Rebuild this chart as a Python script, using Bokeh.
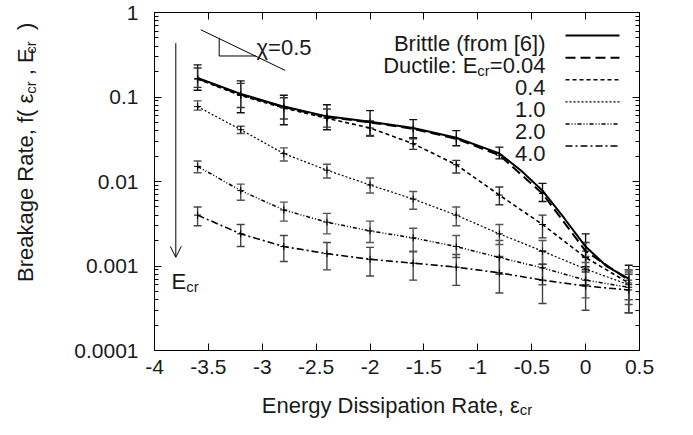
import math
from bokeh.plotting import figure
from bokeh.layouts import row, column
from bokeh.models import (FixedTicker, CustomJSTickFormatter, LinearAxis, LogAxis, Whisker,
                          TeeHead, ColumnDataSource, Label, Arrow, OpenHead, Range1d)
from bokeh.embed import file_html
from bokeh.resources import INLINE

# ---------------- data ----------------
x_pts = [-3.6, -3.2, -2.8, -2.4, -2.0, -1.6, -1.2, -0.8, -0.4, 0.0, 0.4]

brittle_x = [-3.6, -3.2, -2.8, -2.4, -2.0, -1.6, -1.2, -0.8, -0.6, -0.4, -0.2, 0.0, 0.2, 0.4]
brittle_y = [0.168, 0.109, 0.077, 0.059, 0.051, 0.043, 0.033, 0.0215, 0.0135, 0.0078, 0.0037, 0.0017, 0.00098, 0.00071]

d004_y  = [0.165, 0.107, 0.076, 0.058, 0.050, 0.042, 0.032, 0.0205, 0.0072, 0.0015, 0.00068]
d004_hi = [0.24, 0.155, 0.105, 0.081, 0.069, 0.054, 0.040, 0.0255, 0.0095, 0.0024, 0.00102]
d004_lo = [0.12, 0.065, 0.047, 0.041, 0.0345, 0.033, 0.0265, 0.0185, 0.0058, 0.00098, 0.00028]

d04_y  = [0.163, 0.104, 0.074, 0.056, 0.043, 0.028, 0.0158, 0.0069, 0.0031, 0.00126, 0.00063]
d04_hi = [0.22, 0.145, 0.098, 0.072, 0.052, 0.032, 0.0178, 0.0086, 0.0040, 0.0019, 0.0009]
d04_lo = [0.13, 0.075, 0.055, 0.044, 0.035, 0.024, 0.0126, 0.0053, 0.00215, 0.00085, 0.0004]

d10_y  = [0.077, 0.041, 0.0214, 0.0136, 0.0091, 0.0062, 0.0040, 0.0024, 0.0015, 0.00092, 0.0006]
d10_hi = [0.09, 0.045, 0.025, 0.016, 0.011, 0.0076, 0.005, 0.0031, 0.002, 0.0013, 0.00085]
d10_lo = [0.07, 0.037, 0.0175, 0.011, 0.0073, 0.0047, 0.003, 0.0018, 0.00105, 0.0006, 0.0004]

d20_y  = [0.0151, 0.0078, 0.0046, 0.0033, 0.0026, 0.00215, 0.0017, 0.00126, 0.00095, 0.00068, 0.00056]
d20_hi = [0.0175, 0.0093, 0.0057, 0.0042, 0.0034, 0.0028, 0.0023, 0.0020, 0.0015, 0.0011, 0.0009]
d20_lo = [0.0127, 0.0060, 0.0034, 0.0024, 0.0019, 0.0015, 0.00126, 0.0008, 0.0006, 0.00042, 0.00035]

d40_y  = [0.0040, 0.0024, 0.0017, 0.0014, 0.0012, 0.00108, 0.00097, 0.00083, 0.00068, 0.00058, 0.00052]
d40_hi = [0.005, 0.0031, 0.0023, 0.0019, 0.00166, 0.00147, 0.00137, 0.0013, 0.00105, 0.0009, 0.0008]
d40_lo = [0.003, 0.0017, 0.00113, 0.0009, 0.00076, 0.00068, 0.00059, 0.00048, 0.00036, 0.0003, 0.00028]

legend_labels = ["Brittle (from [6])", "Ductile: E", "0.4", "1.0", "2.0", "4.0"]
x_ticks = [-4, -3.5, -3, -2.5, -2, -1.5, -1, -0.5, 0, 0.5]
y_ticks = [0.0001, 0.001, 0.01, 0.1, 1]

# ---------------- layout constants (page pixels) ----------------
FONT = "Liberation Sans"
TXT = "#1a1a1a"
FS, SS, TS = 22, 15, 21     # text / subscript / tick-label font sizes
PAGE_X0, PAGE_Y0 = 8, 8
TOT_W = 672
YT_W = 40                   # left strip holding the y title
MAIN_H = 383                # main figure canvas height (page 8..391)
XT_H = 36                   # bottom strip holding the x title (page 391..427)
FX0, FW = 162, 485          # frame left / width
FY0, FH = 20, 338           # frame top / height
MAIN_X0 = PAGE_X0 + YT_W
MAIN_W = TOT_W - YT_W
NB = "\u00a0"
SUB_SHIFT = 25.0            # nudge of rotated subscripts along the text direction


def dx(px):
    return -4 + (px - FX0) / FW * 4.5


def dy(py):
    return 10 ** (-(py - FY0) / FH * 4)


def rpy(py):  # reference page y -> own page y
    return FY0 + (py - 8) / 352 * FH


WID = {' ': 278, NB: 278, '(': 333, ')': 333, ',': 278, '.': 278, ':': 278, '=': 584, '[': 278,
       ']': 278, 'B': 667, 'D': 722, 'E': 667, 'R': 722, 'a': 556, 'c': 500, 'e': 556, 'f': 278,
       'g': 556, 'i': 222, 'k': 500, 'l': 222, 'n': 556, 'o': 556, 'p': 556, 'r': 333, 's': 500,
       't': 278, 'u': 556, 'y': 500, 'm': 833, 'ε': 446, 'χ': 500}


def tw(s, size):
    return sum(WID.get(ch, 556) for ch in s) / 1000 * size


def text_fig(w, h):
    f = figure(width=w, height=h, x_range=Range1d(0, w), y_range=Range1d(0, h),
               output_backend="svg", toolbar_location=None, title_location=None,
               x_axis_location=None, y_axis_location=None,
               min_border_left=0, min_border_right=0, min_border_top=0, min_border_bottom=0)
    f.outline_line_color = None
    f.background_fill_color = "white"
    f.border_fill_color = "white"
    f.xgrid.visible = False
    f.ygrid.visible = False
    return f


def add_label(fig, x, y, text, size=FS, align="left", angle=0.0):
    fig.add_layout(Label(x=x, y=y, text=text, text_font=FONT, text_font_size=f"{size}px",
                         text_align=align, text_baseline="alphabetic", angle=angle,
                         text_color=TXT))


# ---------------- main figure ----------------
p = figure(width=MAIN_W, height=MAIN_H, y_axis_type="log", x_range=(-4, 0.5), y_range=(1e-4, 1),
           output_backend="svg", toolbar_location=None, title_location=None,
           min_border_left=FX0 - MAIN_X0, min_border_right=MAIN_W - (FX0 - MAIN_X0) - FW,
           min_border_top=FY0 - PAGE_Y0, min_border_bottom=MAIN_H - (FY0 - PAGE_Y0) - FH)
p.background_fill_color = "white"
p.border_fill_color = "white"
p.outline_line_color = "black"
p.outline_line_width = 1
p.xgrid.visible = False
p.ygrid.visible = False


def lab(text, px, py, size=FS, align="left"):
    add_label(p, dx(px), dy(py), text, size, align)


xt = FixedTicker(ticks=x_ticks, minor_ticks=[])
y_minor = [m * t for t in y_ticks[:-1] for m in range(2, 10)]
yt = FixedTicker(ticks=y_ticks, minor_ticks=y_minor)
fmt = CustomJSTickFormatter(code="return String(tick)")
blank = CustomJSTickFormatter(code="return ''")

xa = p.below[0]
ya = p.left[0]
for ax, tk in ((xa, xt), (ya, yt)):
    ax.ticker = tk
    ax.formatter = fmt
    ax.major_tick_in = 7
    ax.major_tick_out = 0
    ax.minor_tick_in = 4
    ax.minor_tick_out = 0
    ax.axis_line_color = "black"
    ax.major_tick_line_color = "black"
    ax.minor_tick_line_color = "black"
    ax.major_label_text_font = FONT
    ax.major_label_text_font_size = f"{TS}px"
    ax.major_label_text_color = TXT
xa.major_label_standoff = 9
ya.major_label_standoff = 16

top_ax = LinearAxis(ticker=xt, formatter=blank, major_tick_in=7, major_tick_out=0,
                    minor_tick_in=0, minor_tick_out=0, major_label_standoff=0,
                    major_label_text_font_size="2px", axis_line_color="black")
right_ax = LogAxis(ticker=yt, formatter=blank, major_tick_in=7, major_tick_out=0,
                   minor_tick_in=4, minor_tick_out=0, major_label_standoff=0,
                   major_label_text_font_size="2px", axis_line_color="black")
p.add_layout(top_ax, "above")
p.add_layout(right_ax, "right")

# series
p.line(brittle_x, brittle_y, line_color="black", line_width=2.0)

series = [
    (d004_y, d004_lo, d004_hi, "10 5", 2.0, "#111111"),
    (d04_y, d04_lo, d04_hi, "4 3", 1.6, "#333333"),
    (d10_y, d10_lo, d10_hi, "2 2", 1.2, "#555555"),
    (d20_y, d20_lo, d20_hi, "4 2 1 2 1 2", 1.5, "#555555"),
    (d40_y, d40_lo, d40_hi, "7 3 2 3", 1.6, "#444444"),
]
styles = [("solid", 2.0)] + [(s[3], s[4]) for s in series]

for yv, lo, hi, dash, lw, ecol in series:
    p.line(x_pts, yv, line_color="black", line_width=lw, line_dash=dash)
    src = ColumnDataSource(dict(base=x_pts, lower=lo, upper=hi))
    p.add_layout(Whisker(source=src, base="base", lower="lower", upper="upper", dimension="height",
                         line_color=ecol, line_width=1.4,
                         upper_head=TeeHead(size=8, line_color=ecol, line_width=1.4),
                         lower_head=TeeHead(size=8, line_color=ecol, line_width=1.4)))
    p.scatter(x_pts, yv, marker="cross", size=7, line_color="black", line_width=1)

# legend (text, then line sample to its right)
for i, (lbl, (dash, lw)) in enumerate(zip(legend_labels, styles)):
    cy = 32 + 23 * i
    base = rpy(cy) + 8
    if i == 1:
        r = 553
        lab("=0.04", r, base, align="right")
        r -= tw("=0.04", FS)
        lab("cr", r, base + 5, size=SS, align="right")
        r -= tw("cr", SS)
        lab(lbl, r, base, align="right")
    else:
        lab(lbl, 553, base, align="right")
    p.line([dx(573), dx(627)], [dy(rpy(cy)), dy(rpy(cy))], line_color="black", line_width=lw,
           line_dash=dash)

# slope triangle
tri_x0 = [208.3, 226.7, 226.7]
tri_y0 = [26.0, 35.0, 53.3]
tri_x1 = [292.7, 226.7, 263.3]
tri_y1 = [68.3, 53.3, 53.3]
p.segment([dx(v) for v in tri_x0], [dy(rpy(v)) for v in tri_y0],
          [dx(v) for v in tri_x1], [dy(rpy(v)) for v in tri_y1], line_color="black", line_width=1)
lab("χ=0.5", 264, rpy(44))

# E_cr arrow
p.add_layout(Arrow(end=OpenHead(size=11, line_width=1, line_color="black"),
                   x_start=dx(183.3), y_start=dy(rpy(40)), x_end=dx(183.3), y_end=dy(rpy(263)),
                   line_width=1, line_color="black"))
lab("E", 179, rpy(288))
lab("cr", 179 + tw("E", FS), rpy(288) + 5, size=SS)

# ---------------- y title strip (y measured upward from strip bottom) ----------------
yfig = text_fig(YT_W, MAIN_H)
YF_BOTTOM = PAGE_Y0 + MAIN_H
part1 = "Breakage Rate, f( ε"
gap = NB * 3
part2 = ", E"
ytitle = part1 + gap + part2 + gap + ")"
total = tw(ytitle, FS)
yc = rpy(178.5)
y_start = yc + total / 2
add_label(yfig, 33 - PAGE_X0, YF_BOTTOM - y_start, ytitle, FS, angle=math.pi / 2)
sub1 = y_start - tw(part1, FS) - SUB_SHIFT
sub2 = y_start - tw(part1 + gap + part2, FS) - SUB_SHIFT
for sp in (sub1, sub2):
    add_label(yfig, 38 - PAGE_X0, YF_BOTTOM - sp, "cr", SS, angle=math.pi / 2)

# ---------------- x title strip ----------------
xfig = text_fig(TOT_W, XT_H)
XF_BOTTOM = PAGE_Y0 + MAIN_H + XT_H
xt_main = "Energy Dissipation Rate, ε"
tot = tw(xt_main, FS) + tw("cr", SS)
x0 = FX0 + FW / 2 - tot / 2
add_label(xfig, x0 - PAGE_X0, XF_BOTTOM - 413, xt_main, FS)
add_label(xfig, x0 + tw(xt_main, FS) - PAGE_X0, XF_BOTTOM - 417, "cr", SS)

layout = column(row(yfig, p, spacing=0), xfig, spacing=0)
open("out.html", "w").write(file_html(layout, INLINE))
